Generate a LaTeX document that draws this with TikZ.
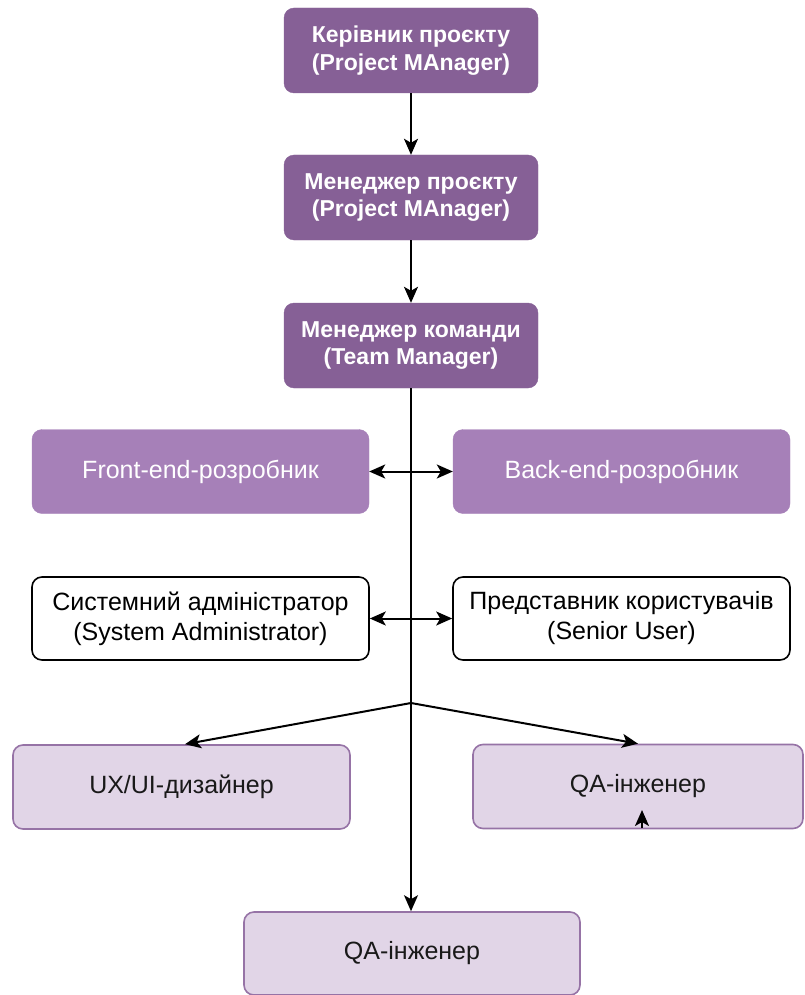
\documentclass[tikz,border=0pt]{standalone}
\usepackage{fontspec}
\setmainfont{Liberation Sans}
\usetikzlibrary{arrows.meta,calc}

\definecolor{mgrDark}{RGB}{134,96,150}
\definecolor{devMid}{RGB}{166,128,184}
\definecolor{roleFill}{RGB}{225,213,231}
\definecolor{roleLine}{RGB}{150,115,166}

\tikzset{
  x=1pt, y=-1pt,
  tip/.tip={Stealth[length=16pt,width=14pt,inset=4pt]},
  box/.style={rounded corners=10pt, minimum width=254pt, minimum height=85pt,
    align=center, inner sep=0pt},
  mgrbox/.style={box, fill=mgrDark, draw=mgrDark, text=white,
    font=\fontsize{23}{27.5}\selectfont\bfseries},
  devbox/.style={box, fill=devMid, draw=devMid, text=white,
    minimum width=337pt, minimum height=84pt,
    font=\fontsize{25}{30}\selectfont},
  plainbox/.style={box, fill=white, draw=black, line width=1.6pt,
    minimum width=337pt, minimum height=83pt,
    font=\fontsize{25}{30}\selectfont},
  rolebox/.style={box, fill=roleFill, draw=roleLine, line width=1.6pt,
    minimum width=337pt, minimum height=84pt, text=black!90,
    font=\fontsize{25}{30}\selectfont},
  link/.style={line width=2pt, -tip},
  biline/.style={line width=2pt, tip-tip},
  spine/.style={line width=1.8pt, -tip}
}

\begin{document}
\begin{tikzpicture}
  \useasboundingbox (0,0) rectangle (804,995);

  % management chain
  \node[mgrbox] (pm1) at (411,50.5) {Керівник проєкту\\(Project MAnager)};
  \node[mgrbox] (pm2) at (411,197.5) {Менеджер проєкту\\(Project MAnager)};
  \node[mgrbox] (tm)  at (411,345.5) {Менеджер команди\\(Team Manager)};

  % developers
  \node[devbox] (fe) at (200.5,471.5) {Front-end-розробник};
  \node[devbox] (be) at (621.5,471.5) {Back-end-розробник};

  % support roles
  \node[plainbox] (sa) at (200.5,618.5) {Системний адміністратор\\(System Administrator)};
  \node[plainbox] (su) at (621.5,618.5) {Представник користувачів\\(Senior User)};

  % design and testing
  \node[rolebox] (ux)  at (181.5,787) {UX/UI-дизайнер};
  \node[rolebox, minimum width=330pt] (qa1) at (638,786.5) {QA-інженер};
  \node[rolebox, minimum width=336pt, minimum height=83pt] (qa2) at (412,953.5) {QA-інженер};

  % connectors
  \draw[link] (pm1.south) -- (pm2.north);
  \draw[link] (pm2.south) -- (tm.north);
  \draw[spine] (tm.south) -- (tm.south |- qa2.north);

  \draw[biline] (fe.east) -- (be.west);
  \draw[biline] (sa.east) -- (su.west);

  \coordinate (br) at (411,703);
  \draw[link] (br) -- ($(ux.north)+(3.5,0)$);
  \draw[link] (br) -- (qa1.north);

  \coordinate (stub) at (642,828);
  \draw[link] (stub) -- (642,810);
\end{tikzpicture}
\end{document}
